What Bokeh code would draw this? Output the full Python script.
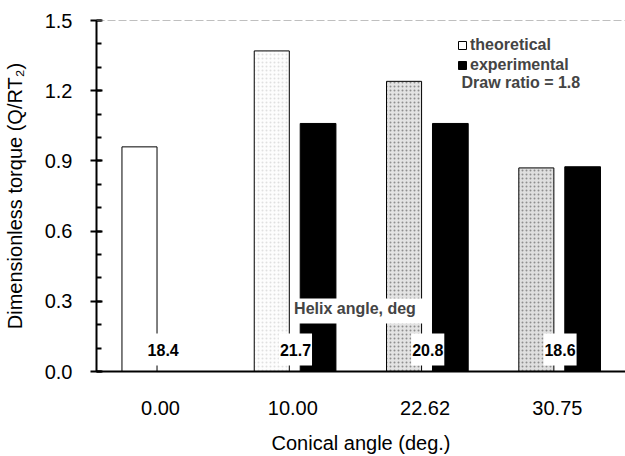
from bokeh.plotting import figure
from bokeh.models import (ColumnDataSource, Range1d, FixedTicker, SingleIntervalTicker,
                          Span, Label, Legend, LegendItem, NumeralTickFormatter)
from bokeh.transform import dodge
from bokeh.core.properties import value
from bokeh.embed import file_html
from bokeh.resources import INLINE

# ---- data ----
categories = ["0.00", "10.00", "22.62", "30.75"]      # conical angle (deg.)
theoretical = [0.96, 1.37, 1.24, 0.87]                 # dimensionless torque
experimental = [0.0, 1.06, 1.06, 0.875]
helix_angle = ["18.4", "21.7", "20.8", "18.6"]         # helix angle, deg
bar_fill = ["white", "#fdfdfd", "#e3e3e3", "#dfdfdf"]
bar_hatch = ["blank", "dot", "dot", "dot"]
bar_hatch_color = ["#ffffff", "#e0e0e0", "#8e8e8e", "#8e8e8e"]

FONT = "Liberation Sans"

src = ColumnDataSource(dict(
    idx=list(range(len(categories))),
    theo=theoretical,
    expt=experimental,
    helix=helix_angle,
    fill=bar_fill,
    hatch=bar_hatch,
    hatch_color=bar_hatch_color,
))

p = figure(width=625, height=456, output_backend="svg", toolbar_location=None,
           x_range=Range1d(-0.484, 3.515), y_range=Range1d(0, 1.5),
           min_border_left=96, min_border_top=20, min_border_right=0, min_border_bottom=83)
p.outline_line_color = None
p.xgrid.visible = False
p.ygrid.visible = False
p.background_fill_color = "white"
p.border_fill_color = "white"

# bars
theo_r = p.vbar(x=dodge("idx", -0.159), top="theo", bottom=0, width=0.265, source=src,
                fill_color="fill", line_color="black", line_width=1,
                hatch_pattern="hatch", hatch_color="hatch_color", hatch_scale=4, hatch_weight=1)
expt_r = p.vbar(x=dodge("idx", 0.191), top="expt", bottom=0, width=0.27, source=src,
                fill_color="black", line_color="black", line_width=1)

# helix-angle labels with white boxes
p.text(x=dodge("idx", 0.02), y=0.094, text="helix", source=src,
       text_font=value(FONT), text_font_style="bold", text_font_size="16px",
       text_color="black", text_align="center", text_baseline="middle",
       background_fill_color="white", border_line_color=None, padding=(1, 10))

p.add_layout(Label(x=1.523, y=0.259, text="Helix angle, deg",
                   text_font=FONT, text_font_style="bold", text_font_size="16px",
                   text_align="center", text_baseline="middle",
                   background_fill_color="white", border_line_color=None,
                   padding=(2, 16, 2, 6)))

p.add_layout(Label(x=2.275, y=1.237, text="Draw ratio = 1.8",
                   text_font=FONT, text_font_style="bold", text_font_size="16px",
                   text_align="left", text_baseline="middle"))

# top border line
p.add_layout(Span(location=1.5, dimension="width", line_color="#808080",
                  line_width=1, line_dash="8 3"))

# legend (swatches from the bar renderers)
legend = Legend(items=[LegendItem(label="theoretical", renderers=[theo_r], index=0),
                       LegendItem(label="experimental", renderers=[expt_r], index=1)],
                location=(361, 296), glyph_width=10, glyph_height=10,
                label_height=20, label_standoff=3, padding=0, spacing=0, margin=0,
                border_line_color=None, background_fill_alpha=0,
                label_text_font=FONT, label_text_font_style="bold",
                label_text_font_size="16px")
p.add_layout(legend)

# x axis
xa = p.xaxis[0]
xa.ticker = FixedTicker(ticks=list(range(len(categories))))
xa.major_label_overrides = {i: c for i, c in enumerate(categories)}
xa.major_tick_in = 0
xa.major_tick_out = 0
xa.minor_tick_in = 0
xa.minor_tick_out = 0
xa.axis_line_width = 2
xa.axis_line_color = "black"
xa.major_label_standoff = 29
xa.major_label_text_font = FONT
xa.major_label_text_font_size = "20px"
xa.major_label_text_color = "black"
xa.axis_label = "Conical angle (deg.)"
xa.axis_label_standoff = 14
xa.axis_label_text_font = FONT
xa.axis_label_text_font_size = "20px"
xa.axis_label_text_font_style = "normal"
xa.axis_label_text_color = "black"

# y axis
ya = p.yaxis[0]
ya.ticker = SingleIntervalTicker(interval=0.3, num_minor_ticks=3)
ya.formatter = NumeralTickFormatter(format="0.0")
ya.major_tick_in = 6
ya.major_tick_out = 6
ya.minor_tick_in = 5
ya.minor_tick_out = 0
ya.major_tick_line_width = 2
ya.minor_tick_line_width = 2
ya.axis_line_width = 2
ya.axis_line_color = "black"
ya.major_tick_line_color = "black"
ya.minor_tick_line_color = "black"
ya.major_label_standoff = 18
ya.major_label_text_font = FONT
ya.major_label_text_font_size = "20px"
ya.major_label_text_color = "black"
ya.axis_label = "Dimensionless torque (Q/RT\u2082)"
ya.axis_label_standoff = 16
ya.axis_label_text_font = FONT
ya.axis_label_text_font_size = "20px"
ya.axis_label_text_font_style = "normal"
ya.axis_label_text_color = "black"

open("out.html", "w").write(file_html(p, INLINE))
